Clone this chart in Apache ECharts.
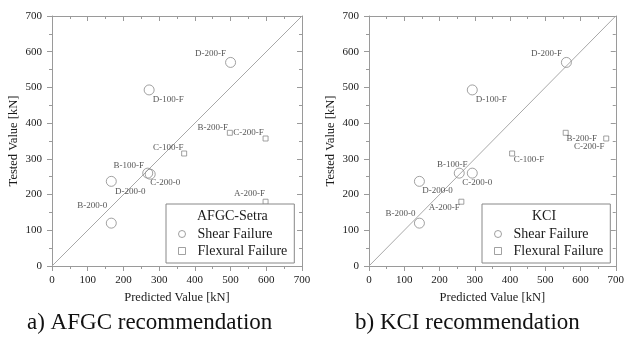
<!DOCTYPE html>
<html>
<head>
<meta charset="utf-8">
<script src="https://cdn.jsdelivr.net/npm/echarts@6/dist/echarts.min.js"></script>
<style>
html,body{margin:0;padding:0;background:#fff;}
#c{width:627px;height:348px;}
</style>
</head>
<body>
<div id="c"></div>
<script>
// ---------- data ----------
var shearNames = ['D-200-F', 'D-100-F', 'B-100-F', 'C-200-0', 'D-200-0', 'B-200-0'];
var flexNames = ['C-100-F', 'B-200-F', 'C-200-F', 'A-200-F'];

var afgcShearPred = [500, 272, 268, 275, 166, 166];
var afgcShearTest = [570, 493, 260, 257, 237, 120];
var afgcFlexPred = [370, 498, 598, 598];
var afgcFlexTest = [315, 373, 357, 180];

var kciShearPred = [560, 293, 256, 293, 143, 143];
var kciShearTest = [570, 493, 260, 260, 237, 120];
var kciFlexPred = [406, 558, 673, 262];
var kciFlexTest = [315, 373, 357, 180];

var diagonal = [0, 700];
var axisTicks = [0, 100, 200, 300, 400, 500, 600, 700];

var legendTitles = ['AFGC-Setra', 'KCI'];
var captions = ['a) AFGC recommendation', 'b) KCI recommendation'];
var seriesNames = ['Shear Failure', 'Flexural Failure'];
var xTitle = 'Predicted Value [kN]';
var yTitle = 'Tested Value [kN]';

// ---------- styles (label placement offsets, px) ----------
var labelOffsets = [
  { 'D-200-F': [-20, -9], 'D-100-F': [19, 10], 'B-100-F': [-19, -8], 'C-200-0': [15, 8],
    'D-200-0': [19, 10], 'B-200-0': [-19, -18],
    'C-100-F': [-16, -6], 'B-200-F': [-17, -5], 'C-200-F': [-17, -6], 'A-200-F': [-16, -8] },
  { 'D-200-F': [-20, -9], 'D-100-F': [19, 10], 'B-100-F': [-7, -9], 'C-200-0': [5, 9],
    'D-200-0': [18, 9], 'B-200-0': [-19, -10],
    'C-100-F': [17, 6], 'B-200-F': [16, 6], 'C-200-F': [-17, 8], 'A-200-F': [-17, 6] }
];

var FONT = 'Liberation Serif';
var AX = '#9a9a9a';
var MARK = '#8a8a8a';
var grids = [
  { left: 52, top: 16, width: 250, height: 250 },
  { left: 369, top: 16, width: 249, height: 250 }
];
var legendBoxes = [
  { left: 166, top: 204 },
  { left: 482, top: 204 }
];

function zip(a, b, names) {
  return a.map(function (v, i) { return { name: names[i], value: [v, b[i]] }; });
}

var option = {
  backgroundColor: '#fff',
  animation: false,
  grid: grids.map(function (g) { return Object.assign({ containLabel: false }, g); }),
  xAxis: [], yAxis: [], series: [], legend: [], graphic: []
};

function mkAxis(kind, gi, pos, main) {
  var ax = {
    type: 'value', gridIndex: gi, position: pos,
    min: axisTicks[0], max: axisTicks[axisTicks.length - 1], interval: 100,
    axisLine: { show: true, onZero: false, lineStyle: { color: AX, width: 1 } },
    axisTick: { show: true, inside: !main, length: 5, lineStyle: { color: AX } },
    minorTick: { show: true, splitNumber: 2, length: 3, lineStyle: { color: AX } },
    splitLine: { show: false },
    axisLabel: { show: main, color: '#1a1a1a', fontFamily: FONT, fontSize: 11, margin: kind === 'x' ? 9 : 10 }
  };
  if (main) {
    ax.name = kind === 'x' ? xTitle : yTitle;
    ax.nameLocation = 'middle';
    ax.nameGap = kind === 'x' ? 24 : 32;
    ax.nameTextStyle = { color: '#1a1a1a', fontFamily: FONT, fontSize: 12.5 };
  }
  return ax;
}

var sets = [
  { sp: afgcShearPred, st: afgcShearTest, fp: afgcFlexPred, ft: afgcFlexTest },
  { sp: kciShearPred, st: kciShearTest, fp: kciFlexPred, ft: kciFlexTest }
];

sets.forEach(function (s, gi) {
  var xi = option.xAxis.length, yi = option.yAxis.length;
  option.xAxis.push(mkAxis('x', gi, 'bottom', true));
  option.xAxis.push(mkAxis('x', gi, 'top', false));
  option.yAxis.push(mkAxis('y', gi, 'left', true));
  option.yAxis.push(mkAxis('y', gi, 'right', false));

  var offs = labelOffsets[gi];
  function lbl(d) {
    d.label = { offset: offs[d.name] };
    return d;
  }
  var baseLabel = {
    show: true, position: 'inside', formatter: '{b}',
    fontFamily: FONT, fontSize: 9, color: '#2a2a2a'
  };

  option.series.push({
    type: 'line', xAxisIndex: xi, yAxisIndex: yi,
    data: [[diagonal[0], diagonal[0]], [diagonal[1], diagonal[1]]],
    symbol: 'none', silent: true,
    lineStyle: { color: '#a8a8a8', width: 1 }, z: 1
  });
  option.series.push({
    name: seriesNames[0], type: 'scatter', xAxisIndex: xi, yAxisIndex: yi,
    symbol: 'circle', symbolSize: 10,
    itemStyle: { color: 'rgba(255,255,255,0)', borderColor: MARK, borderWidth: 1 },
    label: baseLabel,
    data: zip(s.sp, s.st, shearNames).map(lbl), z: 3
  });
  option.series.push({
    name: seriesNames[1], type: 'scatter', xAxisIndex: xi, yAxisIndex: yi,
    symbol: 'rect', symbolSize: 5,
    itemStyle: { color: 'rgba(255,255,255,0)', borderColor: MARK, borderWidth: 1 },
    label: baseLabel,
    data: zip(s.fp, s.ft, flexNames).map(lbl), z: 3
  });

  var lb = legendBoxes[gi];
  option.legend.push({
    data: [
      { name: seriesNames[0], icon: 'circle' },
      { name: seriesNames[1], icon: 'rect' }
    ],
    left: lb.left, top: lb.top, orient: 'vertical',
    padding: [23, 7, 5, 12],
    itemWidth: 7, itemHeight: 7, itemGap: 3,
    borderColor: '#888', borderWidth: 1, backgroundColor: '#fff',
    selectedMode: false,
    formatter: function (n) { return '  ' + n; },
    textStyle: { fontFamily: FONT, fontSize: 14, color: '#1a1a1a', lineHeight: 14 },
    itemStyle: { color: 'rgba(255,255,255,0)', borderColor: MARK, borderWidth: 1 }
  });
});

option.graphic = [
  { type: 'text', left: 197, top: 209, z: 100, style: { text: legendTitles[0], font: '14px ' + FONT, fill: '#1a1a1a' } },
  { type: 'text', left: 532, top: 209, z: 100, style: { text: legendTitles[1], font: '14px ' + FONT, fill: '#1a1a1a' } },
  { type: 'text', left: 27, top: 311, style: { text: captions[0], font: '23px ' + FONT, fill: '#111' } },
  { type: 'text', left: 355, top: 311, style: { text: captions[1], font: '23px ' + FONT, fill: '#111' } }
];

var chart = echarts.init(document.getElementById('c'), null, { renderer: 'canvas' });
chart.setOption(option);
</script>
</body>
</html>
